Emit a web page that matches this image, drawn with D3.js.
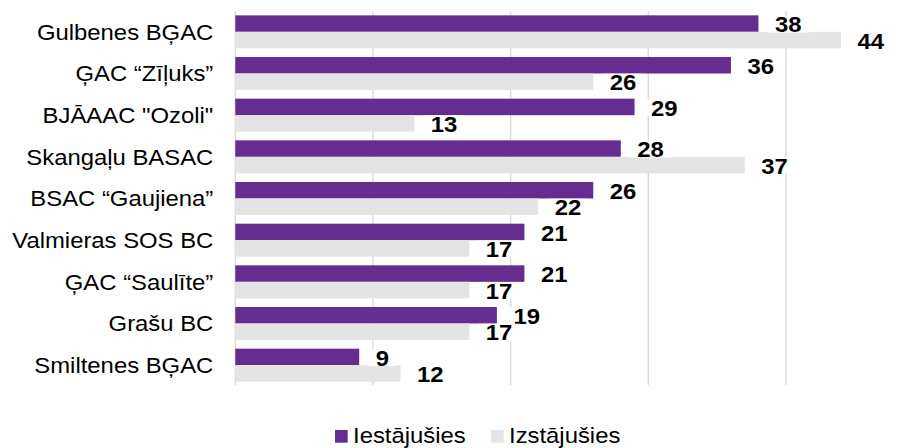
<!DOCTYPE html>
<html>
<head>
<meta charset="utf-8">
<script src="https://cdn.jsdelivr.net/npm/d3@7"></script>
<style>
  html, body { margin: 0; padding: 0; background: #fff; }
  svg { display: block; font-family: "Liberation Sans", Arial, sans-serif; }
</style>
</head>
<body>
<div id="chart"></div>
<script>
// Two series per centre: entered (purple) vs left (grey). Horizontal grouped bars.

const categories = [
  'Gulbenes BĢAC', 'ĢAC “Zīļuks”', 'BJĀAAC "Ozoli"', 'Skangaļu BASAC',
  'BSAC “Gaujiena”', 'Valmieras SOS BC', 'ĢAC “Saulīte”', 'Grašu BC', 'Smiltenes BĢAC'
];
const seriesNames = ['Iestājušies', 'Izstājušies'];
const iestajusies = [38, 36, 29, 28, 26, 21, 21, 19, 9];
const izstajusies = [44, 26, 13, 37, 22, 17, 17, 17, 12];
const gridTicks = [0, 10, 20, 30, 40];

const colors = ['#662d91', '#e4e4e4'];
const W = 914, H = 448;
const FS = 22, SX = 1.085; // text in the source is stretched horizontally

const rows = categories.map((c, i) => ({ name: c, values: [iestajusies[i], izstajusies[i]] }));

const svg = d3.select('#chart').append('svg').attr('width', W).attr('height', H);

const x = d3.scaleLinear().domain([0, 40]).range([235.3, 786]);
const y = d3.scaleBand().domain(categories).range([11, 386]).paddingInner(0.208).paddingOuter(0.104);
const ySub = d3.scaleBand().domain([0, 1]).range([0, y.bandwidth()]);

// gridlines
svg.append('g').selectAll('line').data(gridTicks).join('line')
  .attr('x1', (d) => x(d)).attr('x2', (d) => x(d))
  .attr('y1', 11).attr('y2', 385)
  .style('stroke', '#d9d9d9').attr('stroke-width', 1.4);

function stretchedText(sel, tx, ty) {
  return sel.attr('transform', (d, i) => `translate(${tx(d, i)},${ty(d, i)}) scale(${SX},1)`);
}

// category labels
stretchedText(svg.append('g').selectAll('text').data(categories).join('text'),
  () => x(0) - 22, (d) => y(d) + y.bandwidth() / 2)
  .attr('dy', '0.35em').attr('text-anchor', 'end')
  .style('font-size', FS + 'px').style('fill', '#000')
  .text((d) => d);

// bars
const groups = svg.append('g').selectAll('g').data(rows).join('g')
  .attr('transform', (d) => `translate(0,${y(d.name)})`);

groups.selectAll('rect').data((d) => d.values.map((v, k) => ({ v, k }))).join('rect')
  .attr('x', x(0)).attr('y', (d) => ySub(d.k))
  .attr('width', (d) => x(d.v) - x(0)).attr('height', ySub.bandwidth())
  .style('fill', (d) => colors[d.k]);

// value labels on white boxes
const labels = groups.selectAll('g.lab').data((d) => d.values.map((v, k) => ({ v, k }))).join('g')
  .attr('class', 'lab');
labels.append('rect')
  .attr('x', (d) => x(d.v) + 9).attr('y', (d) => ySub(d.k) + ySub.bandwidth() / 2 - 8)
  .attr('width', (d) => String(d.v).length * 13 + 16).attr('height', 17)
  .style('fill', '#fff');
stretchedText(labels.append('text'),
  (d) => x(d.v) + 16.5, (d) => ySub(d.k) + ySub.bandwidth() / 2 + 1)
  .attr('dy', '0.35em')
  .style('font-size', FS + 'px').style('font-weight', 700).style('fill', '#000')
  .text((d) => d.v);

// legend
const legendX = [335, 491];
const leg = svg.append('g').selectAll('g').data(seriesNames).join('g')
  .attr('transform', (d, i) => `translate(${legendX[i]},430)`);
leg.append('rect').attr('width', 12.7).attr('height', 12.7).style('fill', (d, i) => colors[i]);
stretchedText(leg.append('text'), () => 18, () => 12.5)
  .style('font-size', FS + 'px').style('fill', '#000')
  .text((d) => d);
</script>
</body>
</html>
